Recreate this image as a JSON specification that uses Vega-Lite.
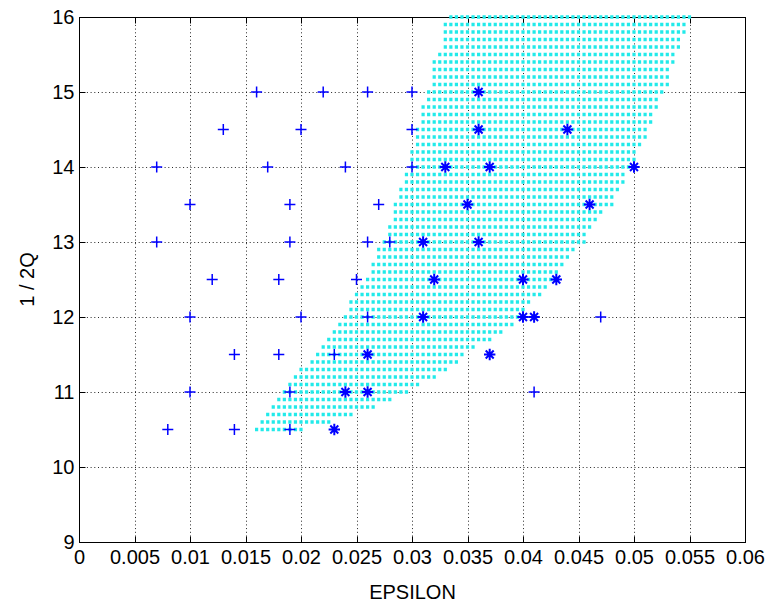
{
  "$schema": "https://vega.github.io/schema/vega-lite/v6.json",
  "width": 666,
  "height": 525,
  "autosize": {"type": "none"},
  "padding": {"left": 79, "top": 17, "right": 21, "bottom": 63},
  "background": "white",
  "config": {
    "view": {"stroke": "black", "strokeWidth": 1},
    "font": "Liberation Sans",
    "axis": {
      "labelFont": "Liberation Sans",
      "titleFont": "Liberation Sans",
      "labelColor": "#000",
      "titleColor": "#000",
      "domainColor": "#000",
      "tickColor": "#000",
      "labelFontSize": 20,
      "titleFontSize": 20,
      "titleFontWeight": "normal",
      "labelFlush": false,
      "labelOverlap": false
    }
  },
  "resolve": {"axis": {"x": "independent", "y": "independent"}},
  "layer": [
    {
      "data": {
        "values": [
          {"v": 10.5, "lo": 0.016, "hi": 0.020},
          {"v": 10.6, "lo": 0.0165, "hi": 0.0225},
          {"v": 10.7, "lo": 0.017, "hi": 0.0245},
          {"v": 10.8, "lo": 0.0175, "hi": 0.0265},
          {"v": 10.9, "lo": 0.018, "hi": 0.028},
          {"v": 11.0, "lo": 0.0185, "hi": 0.0295},
          {"v": 11.1, "lo": 0.019, "hi": 0.0305},
          {"v": 11.2, "lo": 0.0195, "hi": 0.032},
          {"v": 11.3, "lo": 0.020, "hi": 0.033},
          {"v": 11.4, "lo": 0.021, "hi": 0.034},
          {"v": 11.5, "lo": 0.0215, "hi": 0.0345},
          {"v": 11.6, "lo": 0.022, "hi": 0.0355},
          {"v": 11.7, "lo": 0.0225, "hi": 0.037},
          {"v": 11.8, "lo": 0.023, "hi": 0.038},
          {"v": 11.9, "lo": 0.0235, "hi": 0.039},
          {"v": 12.0, "lo": 0.024, "hi": 0.0395},
          {"v": 12.1, "lo": 0.0245, "hi": 0.040},
          {"v": 12.2, "lo": 0.0245, "hi": 0.0405},
          {"v": 12.3, "lo": 0.025, "hi": 0.0415},
          {"v": 12.4, "lo": 0.0255, "hi": 0.042},
          {"v": 12.5, "lo": 0.026, "hi": 0.0425},
          {"v": 12.6, "lo": 0.0265, "hi": 0.043},
          {"v": 12.7, "lo": 0.0265, "hi": 0.0435},
          {"v": 12.8, "lo": 0.027, "hi": 0.044},
          {"v": 12.9, "lo": 0.027, "hi": 0.0445},
          {"v": 13.0, "lo": 0.0275, "hi": 0.0455},
          {"v": 13.1, "lo": 0.028, "hi": 0.0455},
          {"v": 13.2, "lo": 0.028, "hi": 0.046},
          {"v": 13.3, "lo": 0.0285, "hi": 0.0465},
          {"v": 13.4, "lo": 0.0285, "hi": 0.047},
          {"v": 13.5, "lo": 0.0285, "hi": 0.048},
          {"v": 13.6, "lo": 0.029, "hi": 0.048},
          {"v": 13.7, "lo": 0.029, "hi": 0.0485},
          {"v": 13.8, "lo": 0.0295, "hi": 0.049},
          {"v": 13.9, "lo": 0.0295, "hi": 0.049},
          {"v": 14.0, "lo": 0.030, "hi": 0.0495},
          {"v": 14.1, "lo": 0.030, "hi": 0.050},
          {"v": 14.2, "lo": 0.030, "hi": 0.050},
          {"v": 14.3, "lo": 0.0305, "hi": 0.0505},
          {"v": 14.4, "lo": 0.0305, "hi": 0.051},
          {"v": 14.5, "lo": 0.0305, "hi": 0.051},
          {"v": 14.6, "lo": 0.031, "hi": 0.0515},
          {"v": 14.7, "lo": 0.031, "hi": 0.0515},
          {"v": 14.8, "lo": 0.031, "hi": 0.052},
          {"v": 14.9, "lo": 0.0315, "hi": 0.052},
          {"v": 15.0, "lo": 0.0315, "hi": 0.0525},
          {"v": 15.1, "lo": 0.032, "hi": 0.053},
          {"v": 15.2, "lo": 0.032, "hi": 0.053},
          {"v": 15.3, "lo": 0.032, "hi": 0.053},
          {"v": 15.4, "lo": 0.032, "hi": 0.0535},
          {"v": 15.5, "lo": 0.0325, "hi": 0.0535},
          {"v": 15.6, "lo": 0.033, "hi": 0.054},
          {"v": 15.7, "lo": 0.033, "hi": 0.054},
          {"v": 15.8, "lo": 0.033, "hi": 0.0545},
          {"v": 15.9, "lo": 0.033, "hi": 0.0545},
          {"v": 16.0, "lo": 0.0335, "hi": 0.055}
        ]
      },
      "mark": {
        "type": "rule",
        "color": "#22eaea",
        "strokeWidth": 3.4,
        "strokeDash": [3.2, 2.35],
        "strokeCap": "butt",
        "xOffset": -1.6,
        "x2Offset": 1.6
      },
      "encoding": {
        "x": {
          "field": "lo",
          "type": "quantitative",
          "scale": {"domain": [0, 0.06], "nice": false, "zero": false},
          "axis": {
            "orient": "bottom",
            "values": [0, 0.005, 0.01, 0.015, 0.02, 0.025, 0.03, 0.035, 0.04, 0.045, 0.05, 0.055, 0.06],
            "format": "~g",
            "grid": true,
            "gridColor": "#000",
            "gridDash": [1, 2.7],
            "gridOpacity": 0.85,
            "tickSize": -6,
            "labelPadding": 11,
            "title": "EPSILON",
            "titleX": 333,
            "titleY": 50,
            "titleBaseline": "middle",
            "titleAlign": "center"
          }
        },
        "x2": {"field": "hi"},
        "y": {
          "field": "v",
          "type": "quantitative",
          "scale": {"domain": [9, 16], "nice": false, "zero": false},
          "axis": {
            "orient": "left",
            "values": [9, 10, 11, 12, 13, 14, 15, 16],
            "grid": true,
            "gridColor": "#000",
            "gridDash": [1, 2.7],
            "gridOpacity": 0.85,
            "tickSize": -6,
            "labelPadding": 11,
            "title": "1 / 2Q",
            "titleX": -52,
            "titleY": 262,
            "titleAngle": -90,
            "titleBaseline": "middle",
            "titleAlign": "center"
          }
        }
      }
    },
    {
      "data": {
        "values": [
          {"x": 0.016, "y": 15}, {"x": 0.022, "y": 15}, {"x": 0.026, "y": 15}, {"x": 0.030, "y": 15},
          {"x": 0.013, "y": 14.5}, {"x": 0.020, "y": 14.5}, {"x": 0.030, "y": 14.5},
          {"x": 0.007, "y": 14}, {"x": 0.017, "y": 14}, {"x": 0.024, "y": 14}, {"x": 0.030, "y": 14},
          {"x": 0.010, "y": 13.5}, {"x": 0.019, "y": 13.5}, {"x": 0.027, "y": 13.5},
          {"x": 0.007, "y": 13}, {"x": 0.019, "y": 13}, {"x": 0.026, "y": 13}, {"x": 0.028, "y": 13},
          {"x": 0.012, "y": 12.5}, {"x": 0.018, "y": 12.5}, {"x": 0.025, "y": 12.5},
          {"x": 0.010, "y": 12}, {"x": 0.020, "y": 12}, {"x": 0.026, "y": 12}, {"x": 0.047, "y": 12},
          {"x": 0.014, "y": 11.5}, {"x": 0.018, "y": 11.5}, {"x": 0.023, "y": 11.5},
          {"x": 0.010, "y": 11}, {"x": 0.019, "y": 11}, {"x": 0.041, "y": 11},
          {"x": 0.008, "y": 10.5}, {"x": 0.014, "y": 10.5}, {"x": 0.019, "y": 10.5}
        ]
      },
      "mark": {
        "type": "point",
        "shape": "M-1,0L1,0M0,-1L0,1",
        "filled": false,
        "stroke": "#0000ff",
        "strokeWidth": 1.5,
        "size": 121,
        "opacity": 1
      },
      "encoding": {
        "x": {
          "field": "x",
          "type": "quantitative",
          "scale": {"domain": [0, 0.06], "nice": false, "zero": false},
          "axis": {
            "orient": "top",
            "values": [0, 0.005, 0.01, 0.015, 0.02, 0.025, 0.03, 0.035, 0.04, 0.045, 0.05, 0.055, 0.06],
            "labels": false,
            "grid": false,
            "tickSize": -6,
            "title": null
          }
        },
        "y": {
          "field": "y",
          "type": "quantitative",
          "scale": {"domain": [9, 16], "nice": false, "zero": false},
          "axis": {
            "orient": "right",
            "values": [9, 10, 11, 12, 13, 14, 15, 16],
            "labels": false,
            "grid": false,
            "tickSize": -6,
            "title": null
          }
        }
      }
    },
    {
      "data": {
        "values": [
          {"x": 0.036, "y": 15},
          {"x": 0.036, "y": 14.5}, {"x": 0.044, "y": 14.5},
          {"x": 0.033, "y": 14}, {"x": 0.037, "y": 14}, {"x": 0.050, "y": 14},
          {"x": 0.035, "y": 13.5}, {"x": 0.046, "y": 13.5},
          {"x": 0.031, "y": 13}, {"x": 0.036, "y": 13},
          {"x": 0.032, "y": 12.5}, {"x": 0.040, "y": 12.5}, {"x": 0.043, "y": 12.5},
          {"x": 0.031, "y": 12}, {"x": 0.040, "y": 12}, {"x": 0.041, "y": 12},
          {"x": 0.026, "y": 11.5}, {"x": 0.037, "y": 11.5},
          {"x": 0.024, "y": 11}, {"x": 0.026, "y": 11},
          {"x": 0.023, "y": 10.5}
        ]
      },
      "mark": {
        "type": "point",
        "shape": "M-1,0L1,0M0,-1L0,1M-0.7,-0.7L0.7,0.7M-0.7,0.7L0.7,-0.7",
        "filled": false,
        "stroke": "#0000ff",
        "strokeWidth": 2,
        "size": 130,
        "opacity": 1
      },
      "encoding": {
        "x": {
          "field": "x",
          "type": "quantitative",
          "scale": {"domain": [0, 0.06], "nice": false, "zero": false},
          "axis": null
        },
        "y": {
          "field": "y",
          "type": "quantitative",
          "scale": {"domain": [9, 16], "nice": false, "zero": false},
          "axis": null
        }
      }
    }
  ]
}
